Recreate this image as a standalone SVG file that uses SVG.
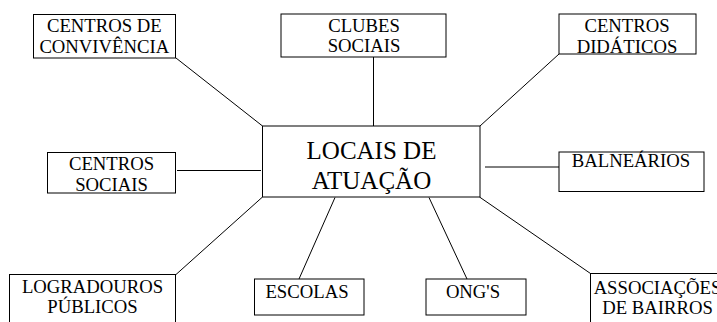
<svg xmlns="http://www.w3.org/2000/svg" width="717" height="322" viewBox="0 0 717 322" font-family="Liberation Serif, Times New Roman, serif">
<style>
.box{fill:#fff;stroke:#000;stroke-width:1}
text{font-size:18.7px;fill:#000;text-anchor:middle}
text.big{font-size:25px}
.c line{stroke:#000;stroke-width:1}
</style>
<rect x="0" y="0" width="717" height="322" fill="#fff"/>
<g id="connectors" class="c">
<line x1="176" y1="58" x2="262.5" y2="126"/>
<line x1="373.5" y1="57" x2="373.5" y2="126"/>
<line x1="559" y1="54" x2="480" y2="126"/>
<line x1="177" y1="170.5" x2="261" y2="170.5"/>
<line x1="485" y1="167" x2="559" y2="167"/>
<line x1="176" y1="274.5" x2="262.5" y2="197"/>
<line x1="335" y1="197.5" x2="299" y2="279"/>
<line x1="429" y1="197.5" x2="467" y2="279"/>
<line x1="479.5" y1="197" x2="590.5" y2="273.5"/>
</g>
<g id="centro">
<rect class="box" x="262.5" y="126" width="217.5" height="71"/>
<text class="big" x="371.5" y="159" font-family="Liberation Serif, serif">LOCAIS DE</text>
<text class="big" x="371.5" y="188.5" font-family="Liberation Serif, serif">ATUAÇÃO</text>
</g>
<g id="convivencia">
<rect class="box" x="33.5" y="14.5" width="142" height="43.5"/>
<text x="104.3" y="32.3">CENTROS DE</text>
<text x="104.3" y="53">CONVIVÊNCIA</text>
</g>
<g id="clubes">
<rect class="box" x="281" y="14" width="165" height="43"/>
<text x="364" y="31.7">CLUBES</text>
<text x="364" y="52">SOCIAIS</text>
</g>
<g id="didaticos">
<rect class="box" x="559" y="14" width="137" height="40"/>
<text x="627" y="32.3">CENTROS</text>
<text x="627" y="53.3">DIDÁTICOS</text>
</g>
<g id="sociais">
<rect class="box" x="47.5" y="152.5" width="128" height="40.5"/>
<text x="111.5" y="170">CENTROS</text>
<text x="111.5" y="191">SOCIAIS</text>
</g>
<g id="balnearios">
<rect class="box" x="559" y="152" width="145" height="39.5"/>
<text x="631" y="167">BALNEÁRIOS</text>
</g>
<g id="logradouros">
<rect class="box" x="9.5" y="274.5" width="166" height="60"/>
<text x="92.5" y="293.3">LOGRADOUROS</text>
<text x="92.5" y="313.3">PÚBLICOS</text>
</g>
<g id="escolas">
<rect class="box" x="254.5" y="279" width="109.5" height="36"/>
<text x="307" y="297.5">ESCOLAS</text>
</g>
<g id="ongs">
<rect class="box" x="426" y="279" width="100" height="36"/>
<text x="473" y="298.3">ONG'S</text>
</g>
<g id="associacoes">
<rect class="box" x="590.5" y="273.5" width="140" height="60"/>
<text x="657.5" y="294.3">ASSOCIAÇÕES</text>
<text x="657.5" y="314">DE BAIRROS</text>
</g>
</svg>
